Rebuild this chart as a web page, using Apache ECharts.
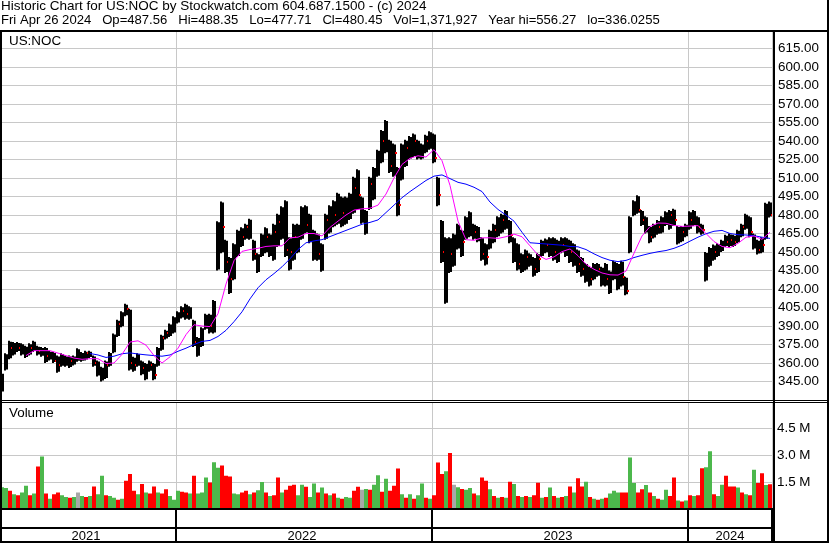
<!DOCTYPE html>
<html><head><meta charset="utf-8">
<script src="https://cdn.jsdelivr.net/npm/echarts@6/dist/echarts.min.js"></script>
<style>html,body{margin:0;padding:0;background:#fff}#c{width:830px;height:543px}</style>
</head><body><div id="c"></div>
<script>
// ---- data (one sample per ~4 trading days) ----
const high = [352,368,378,377,377,376,374,376,378,374, 373,373,370,369,366,368,366,366,366,372,
 369,370,370,366,362,357,362,369,384,395, 402,408,404,365,368,362,360,362,360,373,
 383,387,392,398,402,406,408,406,395,381, 389,400,400,411,475,491,460,446,457,468,
 470,473,477,460,449,465,470,465,473,481, 487,492,462,473,473,487,488,481,468,465,
 457,481,488,492,498,495,495,498,511,517, 495,484,511,519,533,549,557,541,538,519,
 538,541,544,546,541,538,545,548,546,511, 476,462,462,465,473,468,479,483,473,471,
 462,457,468,473,479,481,484,476,462,457, 449,452,449,446,449,460,461,462,462,460,
 462,462,460,457,452,446,441,438,441,441, 438,441,435,443,441,443,430,479,492,496,
 484,479,471,473,476,479,483,484,485,471, 471,473,483,484,479,473,450,454,456,457,
 460,464,465,464,468,473,481,479,465,460, 462,490,491];
const low = [336,354,363,366,369,366,364,366,369,366, 365,360,362,360,352,357,357,356,358,361,
 361,362,364,357,349,345,347,357,368,381, 389,398,354,353,357,350,346,353,346,357,
 370,379,381,384,392,396,395,395,373,365, 373,387,384,384,435,449,433,416,427,446,
 454,460,460,443,433,446,449,446,443,454, 460,446,435,443,449,460,465,457,443,443,
 434,460,465,470,472,470,472,476,481,484, 473,464,484,492,511,522,530,514,511,479,
 508,519,525,527,525,525,530,533,522,487, 441,408,433,438,452,446,460,462,460,458,
 443,439,452,457,462,465,468,457,441,435, 433,435,438,430,433,446,449,446,443,441,
 449,446,441,438,433,430,425,422,427,430, 422,422,416,427,419,422,415,449,479,481,
 471,465,457,461,464,465,471,468,471,456, 458,462,468,471,465,464,426,438,443,446,
 450,454,454,454,457,462,468,462,452,448, 449,460,478];
const close = [350,365,372,371,372,370,368,372,374,370, 369,366,364,362,358,364,361,362,364,368,
 366,368,366,360,352,348,358,366,382,392, 398,404,360,358,364,356,352,358,350,370,
 380,384,388,392,398,402,400,398,377,368, 385,396,390,408,468,470,442,428,450,460,
 462,470,464,448,440,460,462,456,466,474, 480,452,450,462,466,476,472,466,452,448,
 446,476,478,480,488,482,486,490,502,496, 480,472,505,512,528,540,536,520,530,488,
 530,534,536,540,532,532,540,544,526,496, 450,445,448,456,466,458,472,474,466,464,
 448,446,462,468,474,476,478,464,446,440, 440,446,442,436,444,454,456,452,450,454,
 456,452,450,444,440,436,432,428,436,436, 430,428,420,438,426,430,418,470,488,484,
 476,470,462,468,470,474,478,480,476,460, 466,468,476,478,470,468,434,444,450,452,
 456,458,460,458,464,470,476,466,456,452, 456,484,480];
const volM = [1.2,1.15,1.0,0.8,0.75,0.9,1.28,0.75,0.85,2.36, 2.93,0.85,0.55,0.8,0.9,0.75,0.65,0.6,0.65,0.9,
 0.7,0.65,0.7,1.24,0.8,1.85,0.75,0.7,0.6,0.5, 0.55,1.56,1.95,1.0,0.8,1.38,0.9,0.85,1.24,0.9,
 0.85,1.09,0.7,0.5,1.0,0.95,0.9,0.85,1.85,0.85, 0.9,1.75,1.47,2.6,2.3,2.42,1.85,1.8,0.85,0.8,
 0.9,1.0,0.8,0.9,1.03,1.5,0.9,0.7,0.75,1.74, 0.9,1.05,1.28,1.34,0.75,1.34,1.22,0.65,1.41,0.9,
 1.19,0.85,0.75,0.85,0.6,0.55,0.65,0.6,1.0,1.22, 1.05,1.1,1.05,1.34,1.87,0.95,1.68,1.0,1.28,2.25,
 0.8,0.6,0.8,0.55,0.75,1.41,0.6,0.55,0.75,2.59, 1.94,2.1,3.12,1.34,1.2,1.1,1.05,1.15,0.85,0.75,
 1.75,1.57,1.09,0.7,0.6,0.65,0.6,1.51,1.38,0.7, 0.65,0.7,0.65,0.75,1.45,0.6,0.65,1.19,0.7,0.6,
 0.65,0.7,1.24,0.9,1.7,1.24,1.51,0.65,0.55,0.5, 0.55,0.6,0.85,1.0,0.9,0.9,0.9,2.87,1.43,0.9,
 1.09,1.32,0.9,0.7,0.55,0.5,1.05,0.7,1.74,0.45, 0.4,0.45,0.75,0.7,0.75,2.27,2.32,3.22,0.8,0.7,
 1.34,1.85,1.24,1.24,1.19,0.9,0.8,0.75,2.19,1.43, 1.98,1.32,1.37];
// day direction per sample: g = up, r = down, n = unchanged
const dirs = "ggrgrggrgr" + "grgrrggrgn" + "grgrggrggr" + "grrrgrgrrg" + "rrgggrrgrg" +
 "ggrggrrrgg" + "rrgrggrgrr" + "grrrggrggr" + "grgrgrggrr" + "ngrggrgrrr" +
 "grgrggrgrr" + "rgrngrggrg" + "rrgrgrgrgr" + "grgrrgrgrg" + "rgrgrrgrgr" +
 "grgggrrggr" + "rgrgrggrrg" + "rgrgrrggrg" + "grrrgrgrgr" + "rgr";
// moving averages, read at every 2nd sample
const maFast = [null,null,null,366,370,370,370,368,366,364,
 363,363.5,363.5,359.6,360,367,377,378,374.5,366,
 360,365,372,383,391,390,389.5,400,424,443,
 450.5,452,453,454.5,455,455,461.5,462,465,465,
 463,470,475,480,484,485,485.5,488,497,510,
 521,526,528,527,533,524,504,475,460,459.5,
 461.5,461.5,461,462.4,464.5,462.4,455,447.5,444,446,
 450.3,452.5,447,440,436,433,431.5,431.3,434.5,449,
 463,470.6,473.5,473.3,471.5,470.8,471,471.4,465,458.5,
 454.5,453.5,457,462,463,460.3,466];
const maSlow = [null,null,null,null,null,null,null,null,null,null,
 null,367.7,366.5,364.5,365.5,367.5,368.2,367.3,366.6,366,
 365.5,366.5,369.5,372,375,377.5,378.3,381.5,386.5,393.5,
 401.5,412,421,427.5,432.5,438,444.5,452,457.5,459,
 460,462.5,465,467.5,470,472.5,474,476,482,488,
 494,499,503.5,508,511.5,512.5,509.5,506.5,505,502.5,
 499,490.5,484.5,480,475,466,457.5,457,456.5,456,
 455.5,454.5,454.2,452,448.5,445.5,443.3,442.2,443.2,445.5,
 447.3,448.9,450.2,451.2,453,455.5,458.8,462,464.8,466.8,
 467.5,465,464,463.8,463.2,462,461];
const yearStarts = [0, 44, 108, 172];
const yearNames = ['2021', '2022', '2023', '2024'];
const priceMin = 330, priceMax = 630, priceStep = 15;
const volMax = 6, volStep = 1.5;
const titleLine1 = 'Historic Chart for US:NOC by Stockwatch.com 604.687.1500 - (c) 2024';
const titleLine2 = 'Fri Apr 26 2024   Op=487.56   Hi=488.35   Lo=477.71   Cl=480.45   Vol=1,371,927   Year hi=556.27   lo=336.0255';
const symbolName = 'US:NOC';
const volumeName = 'Volume';

// ---- chart ----
const N = high.length;
const cats = high.map((_, i) => String(i));
const bounds = yearStarts.slice(1);
const isBound = i => bounds.indexOf(i) >= 0;
const labelIdx = yearStarts.map((s, k) => Math.floor((s + (k + 1 < yearStarts.length ? yearStarts[k + 1] : N) - 1) / 2));
const isLabel = i => labelIdx.indexOf(i) >= 0;
const priceData = high.map((h, i) => [i, h, low[i], close[i]]);
const volData = volM.map((v, i) => [i, v]);
const fastData = maFast.map((v, j) => [2 * j, v]);
const slowData = maSlow.map((v, j) => [2 * j, v]);
const GRID = '#c8c8c8';
const volColor = { g: '#4cb84c', r: '#ff0000', n: '#a8a8a8' };

function renderPrice(params, api) {
  const i = api.value(0);
  const t = api.coord([i, api.value(1)]);
  const b = api.coord([i, api.value(2)]);
  const c = api.coord([i, api.value(3)]);
  const x0 = Math.round(t[0]) - 2;
  const ch = [
    { type: 'rect', shape: { x: x0, y: t[1], width: 2, height: Math.max(1, b[1] - t[1]) }, style: { fill: '#000' } },
    { type: 'rect', shape: { x: x0 + 2, y: t[1] + 1, width: 2, height: Math.max(1, b[1] - t[1] - 2) }, style: { fill: '#000' } }
  ];
  if (dirs[params.dataIndex] === 'r') ch.push({ type: 'rect', shape: { x: x0 + 3, y: Math.round(c[1]) - 1, width: 2, height: 2 }, style: { fill: '#ff0000' } });
  return { type: 'group', children: ch };
}
function renderVol(params, api) {
  const i = api.value(0);
  const t = api.coord([i, api.value(1)]);
  const b = api.coord([i, 0]);
  const x0 = Math.round(t[0]) - 2;
  return { type: 'rect', shape: { x: x0, y: t[1], width: 4, height: b[1] - t[1] }, style: { fill: volColor[dirs[params.dataIndex]] } };
}

const font = 'Liberation Sans, Arial, sans-serif';
const FS = 13.4;
const option = {
  animation: false,
  backgroundColor: '#fff',
  title: [
    { text: titleLine1, subtext: titleLine2, left: 1, top: -1, padding: 0, itemGap: 0,
      textStyle: { fontSize: 13.5, fontWeight: 'normal', color: '#000', fontFamily: font, lineHeight: 14 },
      subtextStyle: { fontSize: 13.1, color: '#000', fontFamily: font, lineHeight: 14 } },
    { text: symbolName, left: 9, top: 35, padding: 0, textStyle: { fontSize: FS, fontWeight: 'normal', color: '#000', fontFamily: font } },
    { text: volumeName, left: 9, top: 407, padding: 0, textStyle: { fontSize: FS, fontWeight: 'normal', color: '#000', fontFamily: font } }
  ],
  grid: [
    { left: 0, top: 30, width: 772, height: 370 },
    { left: 0, top: 402, width: 772, height: 106.5 },
    { left: 0, top: 509, width: 772, height: 18 }
  ],
  xAxis: [0, 1, 2].map(g => ({
    type: 'category', gridIndex: g, data: cats, boundaryGap: true,
    axisLine: { show: false },
    axisTick: g === 2 ? { show: true, interval: isBound, length: 15, lineStyle: { color: '#000', width: 2 } } : { show: false },
    axisLabel: g === 2 ? { show: true, interval: isLabel, margin: 3, fontSize: 13, color: '#000', fontFamily: font,
      formatter: (v, idx) => yearNames[labelIdx.indexOf(idx)] || '' } : { show: false },
    splitLine: { show: true, interval: isBound, lineStyle: { color: g === 2 ? '#000' : GRID, width: g === 2 ? 2 : 1 } }
  })),
  yAxis: [
    { type: 'value', gridIndex: 0, position: 'right', min: priceMin, max: priceMax, interval: priceStep,
      axisLine: { show: false }, axisTick: { show: false },
      splitLine: { lineStyle: { color: GRID } },
      axisLabel: { margin: 6, fontSize: FS, color: '#000', fontFamily: font,
        formatter: v => (v <= priceMin || v >= priceMax) ? '' : v.toFixed(2) } },
    { type: 'value', gridIndex: 1, position: 'right', min: 0, max: volMax, interval: volStep,
      axisLine: { show: false }, axisTick: { show: false },
      splitLine: { lineStyle: { color: GRID } },
      axisLabel: { margin: 5, fontSize: FS, color: '#000', fontFamily: font,
        formatter: v => (v <= 0 || v >= volMax) ? '' : v.toFixed(1) + ' M' } },
    { type: 'value', gridIndex: 2, show: false, splitLine: { show: false } }
  ],
  series: [
    { type: 'custom', xAxisIndex: 0, yAxisIndex: 0, data: priceData, renderItem: renderPrice, clip: true, z: 3 },
    { type: 'line', xAxisIndex: 0, yAxisIndex: 0, data: slowData, showSymbol: false, lineStyle: { color: '#0000ff', width: 1 }, z: 4 },
    { type: 'line', xAxisIndex: 0, yAxisIndex: 0, data: fastData, showSymbol: false, lineStyle: { color: '#ff00ff', width: 1 }, z: 5 },
    { type: 'custom', xAxisIndex: 1, yAxisIndex: 1, data: volData, renderItem: renderVol, clip: true, z: 3 }
  ],
  graphic: [
    { type: 'rect', z: 100, shape: { x: 0, y: 30, width: 829, height: 2 }, style: { fill: '#000' } },
    { type: 'rect', z: 100, shape: { x: 0, y: 400, width: 829, height: 1 }, style: { fill: '#000' } },
    { type: 'rect', z: 100, shape: { x: 0, y: 402, width: 829, height: 1 }, style: { fill: '#000' } },
    { type: 'rect', z: 100, shape: { x: 0, y: 508, width: 774, height: 2 }, style: { fill: '#000' } },
    { type: 'rect', z: 100, shape: { x: 0, y: 527, width: 774, height: 2 }, style: { fill: '#000' } },
    { type: 'rect', z: 100, shape: { x: 0, y: 541, width: 829, height: 2 }, style: { fill: '#000' } },
    { type: 'rect', z: 100, shape: { x: 0, y: 30, width: 2, height: 513 }, style: { fill: '#000' } },
    { type: 'rect', z: 100, shape: { x: 773, y: 30, width: 2, height: 513 }, style: { fill: '#000' } },
    { type: 'rect', z: 100, shape: { x: 827, y: 0, width: 2, height: 543 }, style: { fill: '#000' } }
  ]
};
const chart = echarts.init(document.getElementById('c'), null, { renderer: 'canvas', width: 830, height: 543 });
chart.setOption(option);
</script></body></html>
